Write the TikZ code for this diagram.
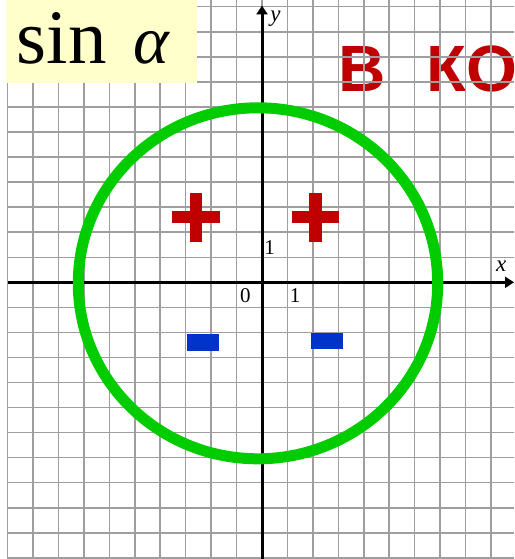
\documentclass[tikz,border=0pt]{standalone}
\usepackage{fontspec}
\setmainfont{Liberation Serif}
\newfontfamily\headfont{Liberation Sans}
\newfontfamily\titlefont{Liberation Serif}
\usetikzlibrary{arrows.meta}
\definecolor{gridgray}{RGB}{158,158,158}
\definecolor{boxyellow}{RGB}{255,255,204}
\definecolor{darkred}{RGB}{192,0,0}
\definecolor{signblue}{RGB}{0,51,204}
\definecolor{circgreen}{RGB}{0,204,0}
\tikzset{
  gridline/.style={gridgray, line width=1.5pt},
  axisline/.style={black, line width=3pt, -{Triangle[length=9pt,width=11pt]}},
  numlabel/.style={inner sep=0pt, font=\fontsize{21}{21}\selectfont},
  varlabel/.style={inner sep=0pt, font=\fontsize{23}{23}\selectfont\itshape},
  plusbar/.style={fill=darkred, draw=none},
  minusbar/.style={fill=signblue, draw=none},
  headtext/.style={inner sep=0pt, anchor=base west, text=darkred, font=\headfont\bfseries\fontsize{65.5}{65.5}\selectfont}
}
\begin{document}
\begin{tikzpicture}[x=1pt,y=-1pt]
\clip (0,0) rectangle (514,559);
\fill[white] (0,0) rectangle (514,559);
% red heading (under the grid)
\node[headtext] (hB) at (338,92) {В};
\node[headtext] (hKO) at (426,92) {КО};
% grid
\foreach \k in {0,...,19} {
  \draw[gridline] ({7.6+25.44*\k},0) -- ({7.6+25.44*\k},559);
}
\foreach \k in {0,...,22} {
  \draw[gridline] (7.6,{6.75+25.05*\k}) -- (514,{6.75+25.05*\k});
}
% sin alpha box
\fill[boxyellow] (6,0) rectangle (197,83);
\node[inner sep=0pt, anchor=base west, font=\titlefont\fontsize{77}{77}\selectfont] (sinlabel) at (16.5,63.3) {sin\hspace{27pt}{\fontsize{68}{68}\selectfont\itshape α}};
% axes
\coordinate (xstart) at (7.6,282.3);
\coordinate (xend) at (514,282.3);
\coordinate (ystart) at (262,559);
\coordinate (yend) at (262,5.5);
\draw[axisline] (xstart) -- (xend);
\draw[axisline] (ystart) -- (yend);
% circle
\draw[circgreen, line width=11pt] (258,283.3) ellipse [x radius=179.7, y radius=175.5];
% plus signs
\fill[plusbar] (171.7,211) rectangle (220,223.3);
\fill[plusbar] (190,193.3) rectangle (202.3,241.7);
\fill[plusbar] (291.7,211) rectangle (339.3,223.3);
\fill[plusbar] (309,193.3) rectangle (321.7,241.7);
% minus signs
\fill[minusbar] (186.7,334) rectangle (219,350.7);
\fill[minusbar] (311,332.7) rectangle (342.7,349.3);
% labels
\node[numlabel] (zero) at (245.3,295.5) {0};
\node[numlabel] (onex) at (295,295.5) {1};
\node[numlabel] (oney) at (269.7,247.5) {1};
\node[varlabel] (xlab) at (501.3,266.5) {x};
\node[varlabel] (ylab) at (275.5,18.5) {y};
\end{tikzpicture}
\end{document}
